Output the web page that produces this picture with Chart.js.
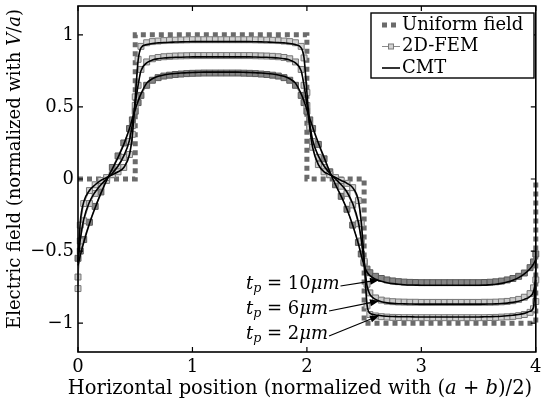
<!DOCTYPE html>
<html>
<head>
<meta charset="utf-8">
<script src="https://cdn.jsdelivr.net/npm/chart.js@4.4.1/dist/chart.umd.min.js"></script>
<style>
  html, body { margin: 0; padding: 0; background: #fff; }
  #wrap { width: 541px; height: 406px; position: relative; }
</style>
</head>
<body>
<div id="wrap"><canvas id="fieldChart"></canvas></div>
<script>
// horizontal position, shared by the FEM samples and the CMT curves
const xPos = [
  0, 0.02, 0.05, 0.1, 0.15, 0.2, 0.25, 0.3, 0.35, 0.4, 0.45,
  0.475, 0.5, 0.525, 0.55,
  0.6, 0.65, 0.7, 0.75, 0.8, 0.85, 0.9, 0.95,
  1, 1.05, 1.1, 1.15, 1.2, 1.25, 1.3, 1.35, 1.4, 1.45, 1.5,
  1.55, 1.6, 1.65, 1.7, 1.75, 1.8, 1.85, 1.9, 1.95,
  1.975, 2, 2.025, 2.05,
  2.1, 2.15, 2.2, 2.25, 2.3, 2.35, 2.4, 2.45,
  2.475, 2.5, 2.525, 2.55,
  2.6, 2.65, 2.7, 2.75, 2.8, 2.85, 2.9, 2.95,
  3, 3.05, 3.1, 3.15, 3.2, 3.25, 3.3, 3.35, 3.4, 3.45, 3.5,
  3.55, 3.6, 3.65, 3.7, 3.75, 3.8, 3.85, 3.9, 3.95,
  3.98, 4
];

// CMT, electrode thickness 2 um
const cmt2 = [
  -0.58, -0.3, -0.16, -0.08, -0.04, -0.01, 0.01, 0.03, 0.05, 0.08, 0.17,
  0.3, 0.56, 0.82, 0.91,
  0.932, 0.94, 0.944, 0.947, 0.949, 0.95, 0.951, 0.952,
  0.953, 0.953, 0.953, 0.953, 0.953, 0.953, 0.953, 0.953, 0.953, 0.953, 0.953,
  0.952, 0.951, 0.95, 0.949, 0.947, 0.944, 0.94, 0.932, 0.91,
  0.84, 0.6, 0.36, 0.22,
  0.1, 0.05, 0.03, 0.01, -0.01, -0.03, -0.06, -0.15,
  -0.3, -0.56, -0.87, -0.93,
  -0.943, -0.949, -0.952, -0.954, -0.955, -0.956, -0.956, -0.957,
  -0.957, -0.957, -0.957, -0.957, -0.957, -0.957, -0.957, -0.957, -0.957, -0.957, -0.957,
  -0.956, -0.955, -0.954, -0.952, -0.949, -0.945, -0.94, -0.932, -0.918,
  -0.89, -0.62
];
const fem2 = [
  -0.76, -0.32, -0.17, -0.08, -0.04, -0.01, 0.01, 0.03, 0.05, 0.08, 0.17,
  0.31, 0.57, 0.83, 0.92,
  0.945, 0.953, 0.957, 0.96, 0.962, 0.963, 0.964, 0.965,
  0.966, 0.966, 0.966, 0.966, 0.966, 0.966, 0.966, 0.966, 0.966, 0.966, 0.966,
  0.965, 0.964, 0.963, 0.962, 0.96, 0.957, 0.953, 0.945, 0.92,
  0.84, 0.6, 0.36, 0.22,
  0.1, 0.05, 0.03, 0.01, -0.01, -0.03, -0.06, -0.15,
  -0.31, -0.57, -0.88, -0.94,
  -0.95, -0.955, -0.958, -0.96, -0.961, -0.962, -0.962, -0.962,
  -0.962, -0.962, -0.962, -0.962, -0.962, -0.962, -0.962, -0.962, -0.962, -0.962, -0.962,
  -0.962, -0.961, -0.96, -0.958, -0.956, -0.953, -0.948, -0.94, -0.925,
  -0.9, -0.85
];

// electrode thickness 6 um
const cmt6 = [
  -0.58, -0.42, -0.28, -0.16, -0.09, -0.04, 0, 0.04, 0.09, 0.16, 0.27,
  0.38, 0.52, 0.65, 0.75,
  0.805, 0.825, 0.834, 0.839, 0.842, 0.844, 0.845, 0.846,
  0.847, 0.847, 0.847, 0.847, 0.847, 0.847, 0.847, 0.847, 0.847, 0.847, 0.847,
  0.846, 0.845, 0.844, 0.842, 0.839, 0.834, 0.825, 0.805, 0.75,
  0.65, 0.52, 0.38, 0.27,
  0.16, 0.09, 0.04, 0, -0.04, -0.09, -0.17, -0.3,
  -0.42, -0.58, -0.74, -0.8,
  -0.835, -0.851, -0.859, -0.863, -0.865, -0.866, -0.867, -0.868,
  -0.868, -0.868, -0.868, -0.868, -0.868, -0.868, -0.868, -0.868, -0.868, -0.868, -0.868,
  -0.868, -0.867, -0.866, -0.864, -0.861, -0.856, -0.848, -0.835, -0.815,
  -0.78, -0.7
];
const fem6 = [
  -0.68, -0.43, -0.29, -0.17, -0.1, -0.05, -0.01, 0.03, 0.08, 0.15, 0.26,
  0.37, 0.51, 0.65, 0.76,
  0.812, 0.834, 0.843, 0.848, 0.851, 0.853, 0.854, 0.855,
  0.856, 0.856, 0.856, 0.856, 0.856, 0.856, 0.856, 0.856, 0.856, 0.856, 0.856,
  0.855, 0.854, 0.853, 0.851, 0.848, 0.843, 0.834, 0.812, 0.76,
  0.65, 0.51, 0.37, 0.26,
  0.15, 0.08, 0.03, -0.01, -0.05, -0.1, -0.18, -0.31,
  -0.43, -0.58, -0.73, -0.79,
  -0.825, -0.84, -0.847, -0.851, -0.853, -0.854, -0.855, -0.855,
  -0.856, -0.856, -0.856, -0.856, -0.856, -0.856, -0.856, -0.856, -0.856, -0.856, -0.856,
  -0.855, -0.855, -0.854, -0.852, -0.849, -0.844, -0.835, -0.82, -0.795,
  -0.755, -0.7
];

// electrode thickness 10 um
const cmt10 = [
  -0.6, -0.53, -0.44, -0.31, -0.2, -0.1, -0.01, 0.07, 0.15, 0.24, 0.35,
  0.42, 0.48, 0.54, 0.59,
  0.665, 0.695, 0.712, 0.722, 0.728, 0.732, 0.735, 0.737,
  0.739, 0.74, 0.741, 0.741, 0.741, 0.741, 0.741, 0.741, 0.741, 0.74, 0.739,
  0.737, 0.735, 0.732, 0.728, 0.722, 0.712, 0.695, 0.665, 0.59,
  0.54, 0.48, 0.42, 0.36,
  0.25, 0.15, 0.05, -0.04, -0.12, -0.21, -0.32, -0.45,
  -0.53, -0.6, -0.645, -0.67,
  -0.695, -0.71, -0.72, -0.726, -0.73, -0.733, -0.735, -0.736,
  -0.737, -0.737, -0.737, -0.737, -0.737, -0.737, -0.737, -0.737, -0.737, -0.737, -0.737,
  -0.736, -0.733, -0.73, -0.724, -0.715, -0.702, -0.684, -0.658, -0.622,
  -0.59, -0.56
];
const fem10 = [
  -0.55, -0.5, -0.42, -0.3, -0.19, -0.09, 0, 0.08, 0.16, 0.25, 0.35,
  0.41, 0.47, 0.53, 0.58,
  0.65, 0.685, 0.703, 0.714, 0.72, 0.725, 0.728, 0.731,
  0.733, 0.734, 0.735, 0.735, 0.735, 0.735, 0.735, 0.735, 0.735, 0.734, 0.733,
  0.731, 0.728, 0.725, 0.72, 0.714, 0.703, 0.685, 0.65, 0.58,
  0.53, 0.47, 0.41, 0.35,
  0.24, 0.14, 0.05, -0.04, -0.12, -0.21, -0.32, -0.44,
  -0.52, -0.58, -0.625, -0.65,
  -0.675, -0.69, -0.7, -0.707, -0.712, -0.715, -0.717, -0.718,
  -0.719, -0.719, -0.719, -0.719, -0.719, -0.719, -0.719, -0.719, -0.719, -0.719, -0.719,
  -0.718, -0.716, -0.713, -0.708, -0.7, -0.69, -0.675, -0.652, -0.615,
  -0.575, -0.52
];

// ideal (uniform field) step profile
const uniformX = [0, 0.5, 0.5, 2, 2, 2.5, 2.5, 4, 4];
const uniformY = [0, 0, 1, 1, 0, 0, -1, -1, 0];

const xTicks = [0, 1, 2, 3, 4];
const xTickLabels = ['0', '1', '2', '3', '4'];
const yTicks = [-1, -0.5, 0, 0.5, 1];
const yTickLabels = ['\u22121', '\u22120.5', '0', '0.5', '1'];

// thickness labels with the point on each CMT curve their arrow points at
const thickLabels = ['10', '6', '2'];
const arrowTipX = [2.63, 2.63, 2.63];
const arrowTipY = [-0.70, -0.846, -0.948];

[cmt2, fem2, cmt6, fem6, cmt10, fem10].forEach(a => {
  if (a.length !== xPos.length) throw new Error('series length ' + a.length + ' != ' + xPos.length);
});

const SERIF = '"DejaVu Serif", "Liberation Serif", serif';
const FS = 18;
const pts = ys => xPos.map((x, i) => ({ x: x, y: ys[i] }));

const cmtStyle = {
  showLine: true, borderColor: '#000', borderWidth: 1.6, pointRadius: 0,
  cubicInterpolationMode: 'monotone', order: 1, clip: 6
};
const femStyle = (fill, edge) => ({
  showLine: true, borderColor: '#8a8a8a', borderWidth: 1,
  pointStyle: 'rect', pointRadius: 4.2, pointBackgroundColor: fill,
  pointBorderColor: edge, pointBorderWidth: 1, order: 2, clip: 6
});

const datasets = [
  Object.assign({ label: 'CMT 2', data: pts(cmt2) }, cmtStyle),
  Object.assign({ label: 'CMT 6', data: pts(cmt6) }, cmtStyle),
  Object.assign({ label: 'CMT 10', data: pts(cmt10) }, cmtStyle),
  Object.assign({ label: '2D-FEM 2', data: pts(fem2) }, femStyle('#d2d2d2', '#7a7a7a')),
  Object.assign({ label: '2D-FEM 6', data: pts(fem6) }, femStyle('#cacaca', '#767676')),
  Object.assign({ label: '2D-FEM 10', data: pts(fem10) }, femStyle('#858585', '#5a5a5a')),
  {
    label: 'Uniform field', data: uniformX.map((x, i) => ({ x: x, y: uniformY[i] })),
    showLine: true, borderColor: '#6b6b6b', borderWidth: 5, borderDash: [5, 4],
    pointRadius: 0, tension: 0, order: 3, clip: 8
  }
];

// draws a run of text pieces, some italic or subscript, as one label
function richText(ctx, runs, x, y, align, size) {
  const fontOf = r => (r.it ? 'italic ' : '') + (r.sub ? size * 0.7 : size) + 'px ' + SERIF;
  let width = 0;
  runs.forEach(r => { ctx.font = fontOf(r); width += ctx.measureText(r.t).width; });
  let cx = align === 'center' ? x - width / 2 : align === 'right' ? x - width : x;
  ctx.textAlign = 'left';
  ctx.textBaseline = 'middle';
  runs.forEach(r => {
    ctx.font = fontOf(r);
    ctx.fillText(r.t, cx, y + (r.sub ? size * 0.28 : 0));
    cx += ctx.measureText(r.t).width;
  });
  return width;
}

const decorations = {
  id: 'decorations',
  afterDatasetsDraw(chart) {
    const { ctx, chartArea: a, scales: { x, y } } = chart;
    ctx.save();
    ctx.fillStyle = '#000';
    ctx.strokeStyle = '#000';

    // axes box with inward ticks on all four sides
    ctx.lineWidth = 1.6;
    ctx.strokeRect(a.left, a.top, a.right - a.left, a.bottom - a.top);
    ctx.lineWidth = 1.2;
    ctx.beginPath();
    xTicks.forEach(v => {
      const px = x.getPixelForValue(v);
      ctx.moveTo(px, a.bottom); ctx.lineTo(px, a.bottom - 5);
      ctx.moveTo(px, a.top); ctx.lineTo(px, a.top + 5);
    });
    yTicks.forEach(v => {
      const py = y.getPixelForValue(v);
      ctx.moveTo(a.left, py); ctx.lineTo(a.left + 5, py);
      ctx.moveTo(a.right, py); ctx.lineTo(a.right - 5, py);
    });
    ctx.stroke();

    // axis titles
    richText(ctx, [
      { t: 'Horizontal position (normalized with (' }, { t: 'a', it: true },
      { t: ' + ' }, { t: 'b', it: true }, { t: ')/2)' }
    ], 300, 389, 'center', 19.5);
    ctx.save();
    ctx.translate(15, (a.top + a.bottom) / 2 - 10);
    ctx.rotate(-Math.PI / 2);
    richText(ctx, [
      { t: 'Electric field (normalized with ' }, { t: 'V', it: true },
      { t: '/' }, { t: 'a', it: true }, { t: ')' }
    ], 0, 0, 'center', FS);
    ctx.restore();

    // thickness labels and arrows
    const labelLeft = 246;
    const labelRows = [284, 309, 334];
    thickLabels.forEach((tp, i) => {
      const w = richText(ctx, [
        { t: 't', it: true }, { t: 'p', it: true, sub: true },
        { t: ' = ' + tp }, { t: '\u03bcm', it: true }
      ], labelLeft, labelRows[i], 'left', FS);
      const x0 = labelLeft + w + 1, y0 = labelRows[i] + 2;
      const x1 = x.getPixelForValue(arrowTipX[i]), y1 = y.getPixelForValue(arrowTipY[i]);
      const ang = Math.atan2(y1 - y0, x1 - x0);
      ctx.lineWidth = 1.2;
      ctx.beginPath();
      ctx.moveTo(x0, y0);
      ctx.lineTo(x1 - 6 * Math.cos(ang), y1 - 6 * Math.sin(ang));
      ctx.stroke();
      ctx.beginPath();
      ctx.moveTo(x1, y1);
      ctx.lineTo(x1 - 9 * Math.cos(ang) + 3.5 * Math.sin(ang), y1 - 9 * Math.sin(ang) - 3.5 * Math.cos(ang));
      ctx.lineTo(x1 - 9 * Math.cos(ang) - 3.5 * Math.sin(ang), y1 - 9 * Math.sin(ang) + 3.5 * Math.cos(ang));
      ctx.closePath();
      ctx.fill();
    });

    // legend box
    const lx = 371, ly = 13, lw = 163, lh = 65;
    ctx.fillStyle = '#fff';
    ctx.fillRect(lx, ly, lw, lh);
    ctx.lineWidth = 1.4;
    ctx.strokeRect(lx, ly, lw, lh);
    const rows = [ly + 12, ly + 33.5, ly + 55];
    const s0 = lx + 11, s1 = lx + 29;

    ctx.save();
    ctx.strokeStyle = '#6b6b6b';
    ctx.lineWidth = 5;
    ctx.setLineDash([5, 4]);
    ctx.beginPath(); ctx.moveTo(s0, rows[0]); ctx.lineTo(s1, rows[0]); ctx.stroke();
    ctx.restore();

    ctx.strokeStyle = '#8a8a8a';
    ctx.lineWidth = 1;
    ctx.beginPath(); ctx.moveTo(s0, rows[1]); ctx.lineTo(s1, rows[1]); ctx.stroke();
    ctx.fillStyle = '#d2d2d2';
    ctx.strokeStyle = '#7a7a7a';
    ctx.fillRect((s0 + s1) / 2 - 2.5, rows[1] - 2.5, 5, 5);
    ctx.strokeRect((s0 + s1) / 2 - 2.5, rows[1] - 2.5, 5, 5);

    ctx.strokeStyle = '#000';
    ctx.lineWidth = 1.6;
    ctx.beginPath(); ctx.moveTo(s0, rows[2]); ctx.lineTo(s1, rows[2]); ctx.stroke();

    ctx.fillStyle = '#000';
    ['Uniform field', '2D-FEM', 'CMT'].forEach((t, i) => {
      richText(ctx, [{ t: t }], s1 + 2, rows[i], 'left', FS);
    });
    ctx.restore();
  }
};

new Chart(document.getElementById('fieldChart'), {
  type: 'scatter',
  data: { datasets: datasets },
  options: {
    responsive: true,
    maintainAspectRatio: false,
    animation: false,
    events: [],
    layout: { padding: { top: 6, right: 4, left: 0, bottom: 0 } },
    plugins: {
      legend: { display: false },
      tooltip: { enabled: false }
    },
    scales: {
      x: {
        type: 'linear', min: 0, max: 4,
        grid: { display: false, drawTicks: false },
        border: { display: false },
        afterBuildTicks: s => { s.ticks = xTicks.map(v => ({ value: v })); },
        afterFit: s => { s.height = 54; s.paddingLeft = 0; s.paddingRight = 0; },
        ticks: {
          autoSkip: false, maxRotation: 0, padding: 5, color: '#000',
          font: { family: SERIF, size: FS },
          callback: (v, i) => xTickLabels[i]
        }
      },
      y: {
        type: 'linear', min: -1.2, max: 1.2,
        grid: { display: false, drawTicks: false },
        border: { display: false },
        afterBuildTicks: s => { s.ticks = yTicks.map(v => ({ value: v })); },
        afterFit: s => { s.width = 78; s.paddingTop = 0; s.paddingBottom = 0; },
        ticks: {
          autoSkip: false, padding: 4, color: '#000',
          font: { family: SERIF, size: FS },
          callback: (v, i) => yTickLabels[i]
        }
      }
    }
  },
  plugins: [decorations]
});
</script>
</body>
</html>
